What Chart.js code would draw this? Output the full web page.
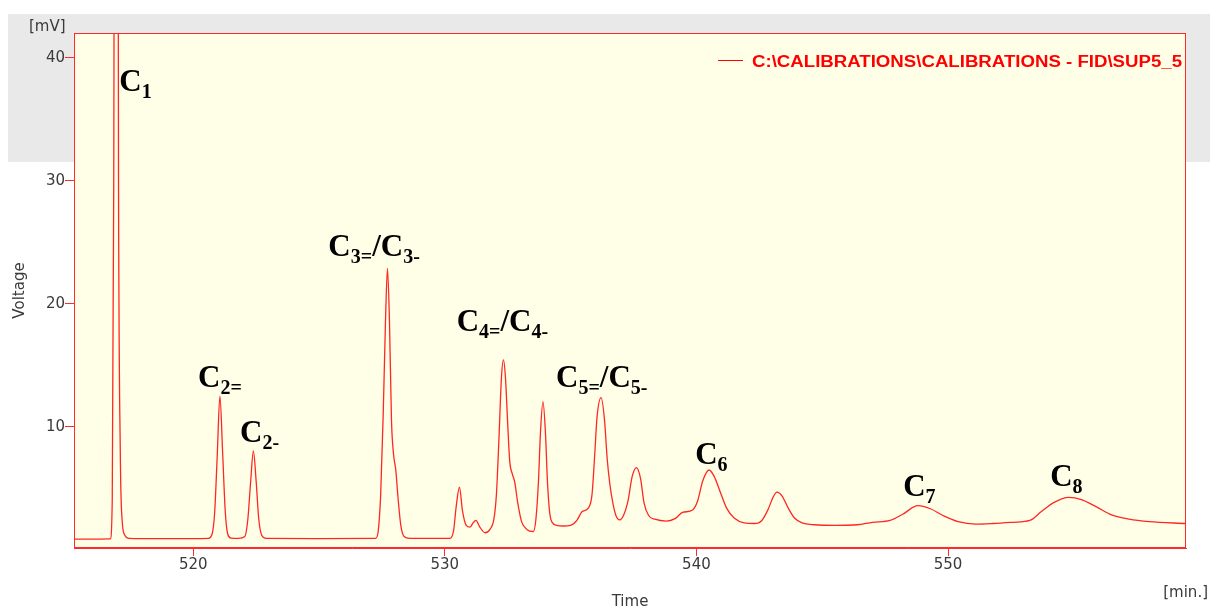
<!DOCTYPE html>
<html>
<head>
<meta charset="utf-8">
<script src="https://cdn.jsdelivr.net/npm/chart.js@4.4.1/dist/chart.umd.min.js"></script>
<style>
  html, body { margin: 0; padding: 0; background: #ffffff; }
  #wrap { width: 1210px; height: 610px; position: relative; }
</style>
</head>
<body>
<div id="wrap"><canvas id="c" width="1210" height="610"></canvas></div>
<script>
// ---- data ----
const times = [
  515.26, 516.0, 516.70, 516.78, 516.84, 516.935, 517.03, 517.10, 517.17, 517.28, 517.45, 518.5, 520.0,
  520.6, 520.75, 520.85, 520.95, 521.06, 521.17, 521.27, 521.37, 521.5,
  521.8, 522.05, 522.17, 522.28, 522.39, 522.5, 522.6, 522.72, 522.9, 525.0,
  527.25, 527.35, 527.45, 527.55, 527.64, 527.72, 527.8, 527.88, 527.96, 528.05, 528.15, 528.25, 528.38, 528.6,
  530.2, 530.35, 530.45, 530.58, 530.7, 530.85, 531.0, 531.12, 531.24, 531.38, 531.6, 531.8, 531.95,
  532.05, 532.15, 532.25, 532.33, 532.41, 532.5, 532.58, 532.68, 532.78, 532.9, 533.05, 533.2, 533.35,
  533.52, 533.62, 533.72, 533.8, 533.9, 534.0, 534.08, 534.17, 534.28, 534.45, 534.7, 535.0, 535.25,
  535.45, 535.7, 535.85, 535.95, 536.05, 536.21, 536.35, 536.45, 536.55, 536.68, 536.8, 536.95,
  537.1, 537.28, 537.45, 537.62, 537.78, 537.92, 538.1, 538.35, 538.8, 539.15, 539.45, 539.85,
  540.05, 540.25, 540.5, 540.7, 540.95, 541.2, 541.5, 541.9, 542.3, 542.6, 542.85, 543.05, 543.2,
  543.4, 543.65, 543.9, 544.2, 544.7, 545.5, 546.4, 547.0, 547.7, 548.2, 548.8, 549.3, 549.8,
  550.4, 551.1, 551.8, 552.6, 553.25, 553.7, 554.2, 554.8, 555.3, 555.9, 556.5, 557.2, 558.0, 559.46
];
const voltage = [
  0.88, 0.88, 0.9, 4, 30, 150, 30, 8, 2.5, 1.2, 0.95, 0.92, 0.93,
  0.95, 1.3, 3.0, 7.5, 12.5, 7.8, 3.2, 1.3, 0.97,
  0.95, 1.1, 2.5, 5.5, 8.05, 5.6, 2.6, 1.2, 0.95, 0.93,
  0.95, 1.5, 4.5, 11, 18.5, 22.9, 18.5, 10.5, 7.8, 6.5, 4.0, 2.0, 1.1, 0.95,
  0.95, 1.6, 3.5, 5.1, 3.2, 2.0, 1.85, 2.2, 2.4, 1.9, 1.4, 1.7, 2.5,
  4.5, 9.0, 14.0, 15.45, 14.0, 10.2, 7.2, 6.2, 5.5, 3.8, 2.3, 1.8, 1.55,
  1.5, 2.5, 5.5, 9.5, 12.06, 9.5, 5.5, 3.0, 2.2, 2.0, 1.95, 2.0, 2.4,
  3.1, 3.4, 4.5, 7.5, 10.8, 12.38, 10.5, 7.5, 5.5, 3.8, 2.8, 2.45,
  2.8, 4.0, 6.0, 6.7, 5.8, 3.8, 2.8, 2.5, 2.35, 2.55, 3.05, 3.25,
  4.0, 5.6, 6.5, 6.0, 4.7, 3.4, 2.6, 2.2, 2.15, 2.4, 3.3, 4.3, 4.7,
  4.4, 3.4, 2.6, 2.2, 2.05, 2.0, 2.05, 2.25, 2.4, 2.9, 3.6, 3.35, 2.8,
  2.3, 2.1, 2.15, 2.25, 2.4, 3.1, 3.85, 4.28, 4.1, 3.5, 2.85, 2.5, 2.3, 2.15
];
const xTicks = [520, 530, 540, 550];
const yTicks = [10, 20, 30, 40];
const seriesName = "C:\\CALIBRATIONS\\CALIBRATIONS - FID\\SUP5_5";
const xTitle = "Time";
const yTitle = "Voltage";
const xUnit = "[min.]";
const yUnit = "[mV]";
const peakLabels = ["C1", "C2=", "C2-", "C3=/C3-", "C4=/C4-", "C5=/C5-", "C6", "C7", "C8"];
const peakLabelTimes = [517.06, 520.19, 521.86, 525.37, 530.47, 534.42, 539.95, 548.22, 554.06];
const peakLabelVolts = [37.34, 13.25, 8.80, 23.90, 17.80, 13.28, 6.99, 4.39, 5.20];

// ---- styling ----
const RED = '#ff2a2a';
const AXIS_FONT = { family: 'DejaVu Sans', size: 15 };
const TEXT_COL = '#3a3a3a';

const decorPlugin = {
  id: 'decor',
  beforeDraw(chart) {
    const ctx = chart.ctx, a = chart.chartArea;
    ctx.save();
    ctx.fillStyle = '#ffffff';
    ctx.fillRect(0, 0, chart.width, chart.height);
    ctx.fillStyle = '#e9e9e9';
    ctx.fillRect(8, 14, chart.width - 8, 148);
    ctx.fillStyle = '#ffffe8';
    ctx.fillRect(a.left, a.top, a.right - a.left, a.bottom - a.top);
    ctx.restore();
  },
  afterDraw(chart) {
    const ctx = chart.ctx, a = chart.chartArea;
    ctx.save();
    // plot frame
    ctx.strokeStyle = RED;
    ctx.lineWidth = 1;
    ctx.strokeRect(a.left + 0.5, a.top + 0.5, a.right - a.left - 1, a.bottom - a.top - 1);

    // axis titles / units
    ctx.fillStyle = TEXT_COL;
    ctx.font = '15px "DejaVu Sans"';
    ctx.textBaseline = 'alphabetic';
    ctx.textAlign = 'right';
    ctx.fillText(yUnit, 65.5, 31);
    ctx.fillText(xUnit, 1208, 597);
    ctx.textAlign = 'center';
    ctx.fillText(xTitle, (a.left + a.right) / 2, 606);
    ctx.save();
    ctx.translate(24, (a.top + a.bottom) / 2);
    ctx.rotate(-Math.PI / 2);
    ctx.fillText(yTitle, 0, 0);
    ctx.restore();

    // legend (inside plot, top right)
    ctx.strokeStyle = '#ff0000';
    ctx.beginPath();
    ctx.moveTo(718, 60.5);
    ctx.lineTo(743, 60.5);
    ctx.stroke();
    ctx.fillStyle = '#ff0000';
    ctx.font = 'bold 16px "Liberation Sans"';
    ctx.textAlign = 'left';
    const w = ctx.measureText(seriesName).width;
    ctx.save();
    ctx.translate(752, 66.5);
    ctx.scale(430 / w, 1);
    ctx.fillText(seriesName, 0, 0);
    ctx.restore();

    // peak labels
    const xs = chart.scales.x, ys = chart.scales.y;
    ctx.fillStyle = '#000000';
    ctx.textAlign = 'left';
    peakLabels.forEach((lab, i) => {
      let x = xs.getPixelForValue(peakLabelTimes[i]);
      const y = ys.getPixelForValue(peakLabelVolts[i]);
      lab.split('/').forEach((piece, j) => {
        if (j > 0) {
          ctx.font = 'bold 31px "Liberation Serif"';
          ctx.fillText('/', x, y);
          x += ctx.measureText('/').width;
        }
        ctx.font = 'bold 31px "Liberation Serif"';
        ctx.fillText(piece[0], x, y);
        x += ctx.measureText(piece[0]).width;
        const sub = piece.slice(1);
        ctx.font = 'bold 20px "Liberation Serif"';
        ctx.fillText(sub, x, y + 7);
        x += ctx.measureText(sub).width;
      });
    });
    ctx.restore();
  }
};

const points = times.map((t, i) => ({ x: t, y: voltage[i] }));

new Chart(document.getElementById('c'), {
  type: 'line',
  data: {
    datasets: [{
      label: seriesName,
      data: points,
      borderColor: 'rgba(255,0,0,0.85)',
      borderWidth: 1.3,
      pointRadius: 0,
      fill: false,
      cubicInterpolationMode: 'monotone'
    }]
  },
  options: {
    responsive: false,
    animation: false,
    devicePixelRatio: 1,
    layout: { padding: { top: 33, right: 24, bottom: 0, left: 0 } },
    plugins: { legend: { display: false }, tooltip: { enabled: false } },
    scales: {
      x: {
        type: 'linear',
        min: 515.26,
        max: 559.46,
        afterFit(s) { s.height = 62; },
        afterBuildTicks(s) { s.ticks = xTicks.map(v => ({ value: v })); },
        grid: { drawOnChartArea: false, drawTicks: true, tickLength: 8, color: RED, tickColor: RED },
        border: { display: true, color: RED },
        ticks: { padding: 0, font: AXIS_FONT, color: TEXT_COL, maxRotation: 0, autoSkip: false }
      },
      y: {
        type: 'linear',
        min: 0.16,
        max: 42.03,
        afterFit(s) { s.width = 74; },
        afterBuildTicks(s) { s.ticks = yTicks.map(v => ({ value: v })); },
        grid: { drawOnChartArea: false, drawTicks: true, tickLength: 9, color: RED, tickColor: RED },
        border: { display: true, color: RED },
        ticks: { padding: 0, font: AXIS_FONT, color: TEXT_COL, autoSkip: false }
      }
    }
  },
  plugins: [decorPlugin]
});
</script>
</body>
</html>
